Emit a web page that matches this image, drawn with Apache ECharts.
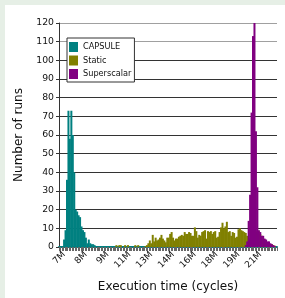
<!DOCTYPE html>
<html>
<head>
<meta charset="utf-8">
<script src="https://cdn.jsdelivr.net/npm/echarts@6/dist/echarts.min.js"></script>
<style>
  body { margin: 0; background: #e6efe6; }
  #panel { position: absolute; left: 5px; top: 5px; width: 280px; height: 293px; background: #fff; }
  #chart { position: absolute; left: 0; top: 0; width: 285px; height: 298px; }
</style>
</head>
<body>
<div id="panel"></div>
<div id="chart"></div>
<script>
// histogram bins along the x axis
const binCount = 150;
const tickLabels = ["7M", "8M", "9M", "11M", "13M", "14M", "16M", "18M", "19M", "21M"];
const labelStart = 3;
const labelStep = 15;

// runs per bin, each list starts at the given bin
const capsuleStart = 0;
const capsuleRuns = [0, 0, 0.5, 4, 9, 36, 73, 58, 73, 60, 40, 20, 19, 17, 16, 11, 9, 8, 5, 2, 4, 2, 1.5, 1.5, 1, 0.5, 0.5];

const staticStart = 39;
const staticRuns = [
  1, 0, 1, 1, 0, 0, 1, 0, 1, 0, 0, 0, 0, 1, 0, 1, 0, 0, 0, 0, 0.5,
  1, 2, 3.5, 2, 6.5, 3, 5, 3.5, 4, 5, 6.5, 4.5, 3.5, 2.5, 5, 5, 7, 8, 5, 3.5,
  4.5, 4.5, 5.5, 6, 6.5, 6, 8, 7, 7, 8, 7.5, 6, 6, 10.5, 8.5, 5, 6.5, 6, 8, 8.5,
  9, 4.5, 8.5, 8, 8.5, 7, 8, 8.5, 5, 5.5, 8, 10.5, 13, 10, 11, 13.5, 8, 8.5, 6, 8,
  7.5, 5, 5.5, 9.5, 10, 9, 8.5, 8, 7.5, 6, 4.5, 4, 5.5, 6.5, 7.5, 8, 8.5, 8.5, 7, 6,
  4.5, 4, 3, 2.5, 2, 1.5, 1.5, 1, 0.7
];

const superscalarStart = 128;
const superscalarRuns = [1, 3, 14, 28, 72, 113, 120, 62, 32, 9, 8, 6, 6, 4.5, 4, 3, 3, 2, 1.5, 1, 0.5];

function fullBins(start, runs) {
  const out = new Array(binCount).fill(0);
  runs.forEach((v, i) => { out[start + i] = v; });
  return out;
}

const categories = [];
for (let i = 0; i < binCount; i++) categories.push(String(i));

const font = "DejaVu Sans";
const dark = "#333";
const gridColors = ["#333", "#333", "#333", "#333", "#333", "#333", "#333", "#333", "#333", "#333", "#333", "#a0a0a0", "#a0a0a0"];

const chart = echarts.init(document.getElementById("chart"));
chart.setOption({
  animation: false,
  textStyle: { fontFamily: font },
  grid: { left: 59, right: 8, top: 23, bottom: 50 },
  legend: {
    data: ["CAPSULE", "Static", "Superscalar"],
    orient: "vertical",
    left: 67,
    top: 38,
    padding: [4, 3, 3, 2],
    itemGap: 3.5,
    itemWidth: 9,
    itemHeight: 10,
    icon: "rect",
    backgroundColor: "#fff",
    borderColor: dark,
    borderWidth: 1,
    borderRadius: 0,
    textStyle: { fontSize: 8.2, color: "#111", fontFamily: font },
  },
  xAxis: {
    type: "category",
    data: categories,
    boundaryGap: true,
    name: "Execution time (cycles)",
    nameLocation: "middle",
    nameGap: 34,
    nameTextStyle: { fontSize: 12, color: "#111", fontFamily: font },
    axisLine: { lineStyle: { color: "#008080", width: 2 } },
    axisTick: { show: true, interval: 0, length: 4, lineStyle: { color: "#666" } },
    axisLabel: {
      interval: (i) => i >= labelStart && (i - labelStart) % labelStep === 0,
      rotate: 45,
      fontSize: 9,
      color: "#111",
      margin: 6,
      formatter: (v, i) => tickLabels[(i - labelStart) / labelStep] || "",
    },
    splitLine: { show: false },
  },
  yAxis: {
    type: "value",
    min: 0,
    max: 120,
    interval: 10,
    name: "Number of runs",
    nameLocation: "middle",
    nameGap: 24,
    nameTextStyle: { fontSize: 12, color: "#111", fontFamily: font },
    axisLine: { show: true, lineStyle: { color: dark } },
    axisTick: { show: true, length: 3, lineStyle: { color: dark } },
    axisLabel: { fontSize: 9.3, color: "#111", margin: 5 },
    splitLine: { show: true, lineStyle: { color: gridColors, width: 1 } },
  },
  series: [
    {
      name: "CAPSULE",
      type: "bar",
      data: fullBins(capsuleStart, capsuleRuns),
      itemStyle: { color: "#008080" },
      barGap: "-100%",
      barWidth: 2,
    },
    {
      name: "Static",
      type: "bar",
      data: fullBins(staticStart, staticRuns),
      itemStyle: { color: "#808000" },
      barGap: "-100%",
      barWidth: 2,
    },
    {
      name: "Superscalar",
      type: "bar",
      data: fullBins(superscalarStart, superscalarRuns),
      itemStyle: { color: "#800080" },
      barGap: "-100%",
      barWidth: 2,
    },
  ],
});
</script>
</body>
</html>
